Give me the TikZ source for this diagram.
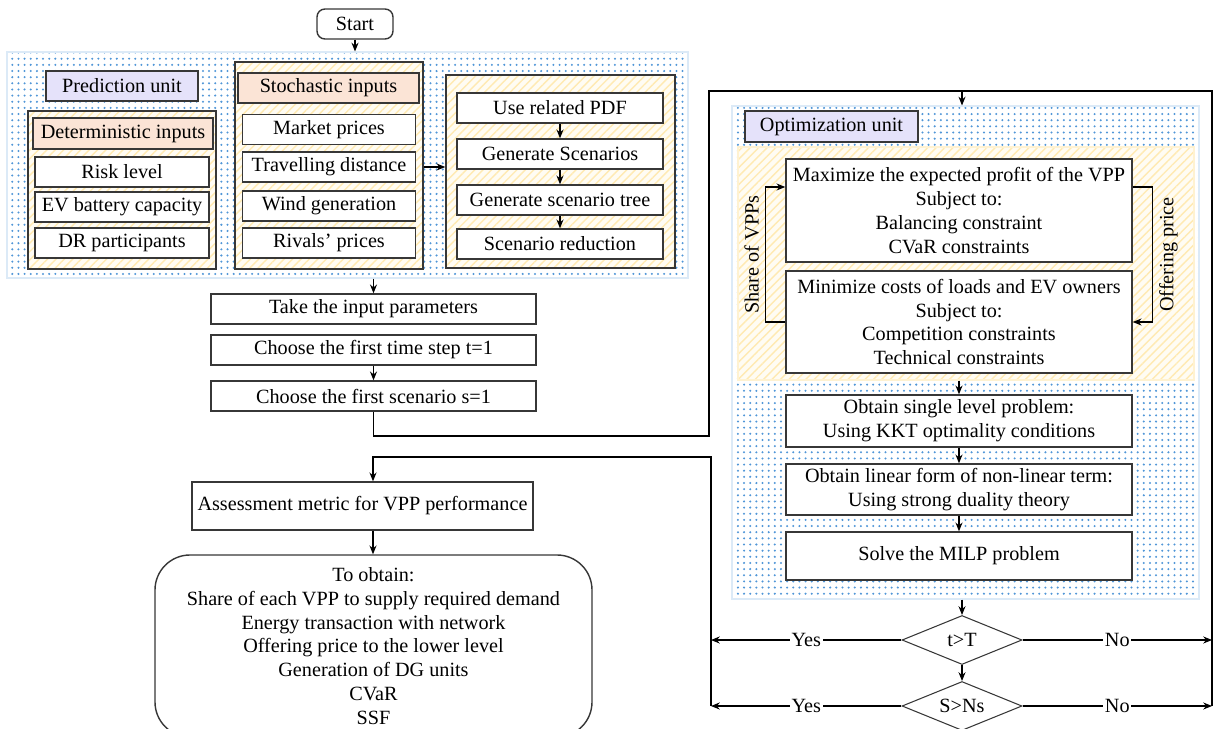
\documentclass[tikz,border=0pt]{standalone}
\usepackage{fontspec}
\setmainfont{Liberation Serif}
\usepackage{tikz}
\usetikzlibrary{arrows.meta,shapes.geometric,patterns.meta}
\definecolor{dotblue}{RGB}{80,150,215}
\definecolor{hatchline}{RGB}{255,234,178}
\definecolor{hatchbase}{RGB}{255,252,243}
\definecolor{lblfill}{RGB}{229,226,250}
\definecolor{ttlfill}{RGB}{251,228,214}
\definecolor{edge}{RGB}{55,55,55}

\begin{document}
\begin{tikzpicture}[->,>={Stealth[length=5pt,width=4pt]},semithick,x=0.02cm,y=-0.02cm,
    font=\fontsize{11.5}{13.6}\selectfont,
    sz/.style 2 args={minimum width={#1*0.02cm},minimum height={#2*0.02cm}},
    box/.style={rectangle,draw=edge,thick,fill=white,inner sep=0pt,align=center},
    unitlbl/.style={box,fill=lblfill},
    grouptitle/.style={box,fill=ttlfill},
    dotarea/.style={draw=dotblue!20,pattern={Dots[distance=3.5pt,radius=0.65pt]},
                    pattern color=dotblue},
    hatcharea/.style={draw=edge,thick,preaction={fill=hatchbase},
                    pattern={Lines[angle=45,distance=3.4pt,line width=0.8pt]},
                    pattern color=hatchline},
    decision/.style={diamond,draw=edge,fill=white,aspect=2.4,inner sep=0pt},
    lbl/.style={fill=white,inner sep=1pt}]
  \useasboundingbox (0,0) rectangle (1213,729);
  \clip (0,0) rectangle (1213,729);

  % prediction unit
  \node[dotarea,sz={681}{226}] (pred) at (347.5,165) {};
  \node[unitlbl,sz={152}{30}] (predlbl) at (122,86) {Prediction unit};
  \node[hatcharea,sz={188}{158}] (det) at (122,190) {};
  \node[grouptitle,sz={180}{31}] (dettitle) at (123,133.5) {Deterministic inputs};
  \node[box,sz={174}{30}] (risk) at (122,172) {Risk level};
  \node[box,sz={174}{30}] (evcap) at (122,207) {EV battery capacity};
  \node[box,sz={174}{30}] (drpart) at (122,243) {DR participants};

  \node[hatcharea,sz={188}{207}] (sto) at (329,165.5) {};
  \node[grouptitle,sz={181}{30}] (stotitle) at (328.5,88) {Stochastic inputs};
  \foreach \y/\n/\t in {129.5/market/Market prices,167/travel/Travelling distance,
                        206/wind/Wind generation,243/rivals/Rivals’ prices}
    \node[box,sz={173}{30}] (\n) at (329,\y) {\t};

  \node[hatcharea,sz={229}{193}] (scen) at (560.5,171.5) {};
  \node[box,sz={206}{30}] (pdf) at (560,108) {Use related PDF};
  \node[box,sz={206}{30}] (genscen) at (560,154) {Generate Scenarios};
  \node[box,sz={206}{30}] (gentree) at (560,200) {Generate scenario tree};
  \node[box,sz={206}{30}] (scenred) at (560,244) {Scenario reduction};

  \node[box,sz={76}{30},rounded corners=0.16cm] (start) at (355,24) {Start};

  \node[box,sz={325}{30}] (take) at (373.5,309) {Take the input parameters};
  \node[box,sz={325}{30}] (chooset) at (373.5,350) {Choose the first time step t=1};
  \node[box,sz={325}{30}] (chooses) at (373.5,396) {Choose the first scenario s=1};

  % optimization unit
  \node[dotarea,sz={467}{493}] (opt) at (965.5,352.5) {};
  \node[unitlbl,sz={173}{31}] (optlbl) at (831.5,126.5) {Optimization unit};
  \node[hatcharea,draw=hatchline!60,sz={456}{233}] (bilevel) at (966,263.5) {};
  \node[box,sz={346}{103}] (upper) at (959,210.5)
    {Maximize the expected profit of the VPP\\Subject to:\\Balancing constraint\\CVaR constraints};
  \node[box,sz={346}{102}] (lower) at (959,322)
    {Minimize costs of loads and EV owners\\Subject to:\\Competition constraints\\Technical constraints};
  \node[box,sz={346}{52}] (single) at (959,421)
    {Obtain single level problem:\\Using KKT optimality conditions};
  \node[box,sz={346}{51}] (linear) at (959,489.5)
    {Obtain linear form of non-linear term:\\Using strong duality theory};
  \node[box,sz={346}{48}] (milp) at (959,556) {Solve the MILP problem};

  \node[decision,sz={120}{49}] (tT) at (962,640) {t>T};
  \node[decision,sz={120}{49}] (sNs) at (962,706) {S>Ns};

  \node[box,sz={341}{48}] (assess) at (362.5,506) {Assessment metric for VPP performance};
  \node[box,sz={437}{182},rounded corners=0.7cm] (obtain) at (373.5,646)
    {To obtain:\\Share of each VPP to supply required demand\\Energy transaction with network\\
     Offering price to the lower level\\Generation of DG units\\CVaR\\SSF};

  \coordinate (tl) at (709,91);
  \coordinate (tr) at (1212,91);
  \coordinate (bl) at (709,436);
  \coordinate (yt) at (711,457);
  \coordinate (ah) at (373,457);

  \draw (start) -- (start |- pred.north);
  \draw (take |- pred.south) -- (take);
  \draw (chooset) -- (chooses);
  \draw (sto.east |- travel) -- (scen.west |- travel);
  \draw (pdf) -- (genscen);
  \draw (genscen) -- (gentree);
  \draw (gentree) -- (scenred);

  \draw[-] (chooses) |- (bl) -- (tl) -- (tr) -- (tr |- sNs);
  \draw (tT |- tl) -- (tT |- opt.north);

  \draw (lower.west) -- ++(-20,0) |- node[pos=0.25,rotate=90,above] {Share of VPPs}
        ([yshift=0.47cm]upper.west);
  \draw ([yshift=0.47cm]upper.east) -- ++(20,0) |- node[pos=0.25,rotate=90,below] {Offering price}
        (lower.east);

  \draw (single |- bilevel.south) -- (single);
  \draw (single) -- (linear);
  \draw (linear) -- (milp);
  \draw (tT |- opt.south) -- (tT);
  \draw (tT) -- (sNs);

  \draw (tT.west) -- node[lbl] {Yes} (tT.west -| yt);
  \draw (sNs.west) -- node[lbl] {Yes} (sNs.west -| yt);
  \draw (tT.east) -- node[lbl] {No} (tT.east -| tr);
  \draw (sNs.east) -- node[lbl] {No} (sNs.east -| tr);

  \draw (yt |- sNs) -- (yt) -- (ah) -- (ah |- assess.north);
  \draw (ah |- assess.south) -- (ah |- obtain.north);
\end{tikzpicture}
\end{document}
